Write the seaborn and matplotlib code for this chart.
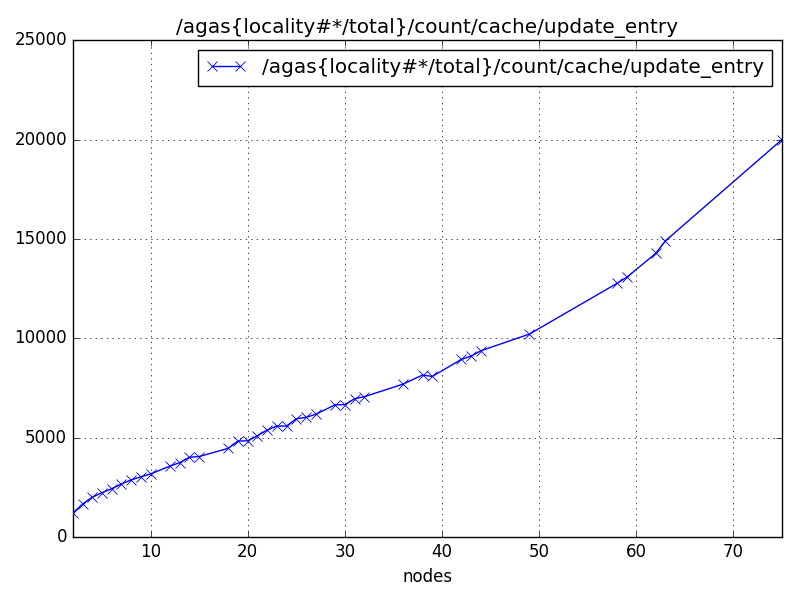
import matplotlib
matplotlib.use("Agg")
import matplotlib.pyplot as plt
import seaborn as sns
import pandas as pd

nodes = [2, 3, 4, 5, 6, 7, 8, 9, 10, 12, 13, 14, 15, 18, 19, 20, 21, 22, 23, 24,
         25, 26, 27, 29, 30, 31, 32, 36, 38, 39, 42, 43, 44, 49, 58, 59, 62, 63, 75]
values = [1200, 1660, 2000, 2230, 2430, 2670, 2870, 3030, 3170, 3570, 3740, 4010, 4050,
          4460, 4830, 4840, 5095, 5380, 5583, 5583, 5950, 6021, 6172, 6655, 6655,
          6957, 7057, 7696, 8150, 8080, 8938, 9104, 9371, 10211, 12761, 13063,
          14270, 14904, 20000]
series_label = "/agas{locality#*/total}/count/cache/update_entry"

df = pd.DataFrame({"nodes": nodes, "value": values})

plt.style.use("classic")
fig, ax = plt.subplots(figsize=(8, 6), dpi=100)
fig.patch.set_facecolor("white")
fig.subplots_adjust(left=0.091, right=0.9775, top=0.933, bottom=0.105)

sns.lineplot(data=df, x="nodes", y="value", ax=ax, color="b", marker="x",
             markersize=7, markeredgewidth=0.6, linewidth=1, label=series_label,
             markeredgecolor="b")
ax.set_xlim(2, 75)
ax.set_ylim(0, 25000)
ax.set_xticks([10, 20, 30, 40, 50, 60, 70])
ax.set_yticks([0, 5000, 10000, 15000, 20000, 25000])
ax.set_xlabel("nodes")
ax.set_ylabel("")
ax.set_title(series_label)
ax.grid(True)
ax.legend(loc="upper right", numpoints=2)

fig.savefig("out.png", dpi=100, facecolor="white")
